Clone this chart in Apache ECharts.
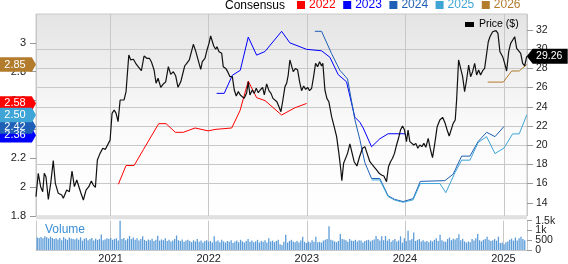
<!DOCTYPE html>
<html><head><meta charset="utf-8">
<script src="https://cdn.jsdelivr.net/npm/echarts@6/dist/echarts.min.js"></script>
<style>html,body{margin:0;padding:0;background:#fff}#c{width:568px;height:264px}</style>
</head><body><div id="c"></div>
<script>
// ---------- DATA (dates as decimal years) ----------
const priceYears = [
2020.249,2020.272,2020.296,2020.317,2020.333,2020.350,2020.374,2020.398,2020.424,2020.445,
2020.475,2020.510,2020.526,2020.560,2020.587,2020.614,2020.638,2020.662,2020.682,2020.703,
2020.729,2020.756,2020.784,2020.810,2020.830,2020.851,2020.871,2020.898,2020.926,2020.952,
2020.983,2021.000,2021.020,2021.041,2021.061,2021.081,2021.102,2021.122,2021.142,2021.162,
2021.190,2021.210,2021.237,2021.264,2021.291,2021.318,2021.345,2021.373,2021.399,2021.419,
2021.447,2021.467,2021.487,2021.515,2021.541,2021.565,2021.592,2021.616,2021.643,2021.667,
2021.690,2021.718,2021.738,2021.758,2021.779,2021.805,2021.825,2021.846,2021.870,2021.904,
2021.921,2021.937,2021.964,2021.985,2022.005,2022.022,2022.039,2022.053,2022.073,2022.086,
2022.107,2022.134,2022.150,2022.175,2022.195,2022.218,2022.242,2022.262,2022.282,2022.303,
2022.323,2022.343,2022.363,2022.388,2022.404,2022.421,2022.445,2022.465,2022.485,2022.506,
2022.526,2022.550,2022.567,2022.591,2022.614,2022.635,2022.655,2022.675,2022.695,2022.716,
2022.736,2022.756,2022.777,2022.794,2022.810,2022.827,2022.845,2022.861,2022.885,2022.906,
2022.926,2022.946,2022.967,2022.987,2023.007,2023.027,2023.048,2023.068,2023.088,2023.109,
2023.129,2023.149,2023.162,2023.183,2023.203,2023.223,2023.251,2023.277,2023.302,2023.325,
2023.345,2023.355,2023.373,2023.393,2023.413,2023.437,2023.460,2023.480,2023.508,2023.535,
2023.565,2023.589,2023.640,2023.660,2023.680,2023.708,2023.734,2023.758,2023.782,2023.809,
2023.829,2023.850,2023.870,2023.890,2023.911,2023.931,2023.951,2023.972,2023.992,2024.012,
2024.028,2024.046,2024.066,2024.086,2024.107,2024.127,2024.147,2024.168,2024.188,2024.208,
2024.232,2024.256,2024.276,2024.299,2024.323,2024.350,2024.378,2024.404,2024.424,2024.445,
2024.465,2024.485,2024.506,2024.520,2024.540,2024.560,2024.581,2024.601,2024.621,2024.642,
2024.662,2024.682,2024.703,2024.723,2024.743,2024.763,2024.784,2024.804,2024.824,2024.841,
2024.858,2024.885,2024.919,2024.939,2024.959,2024.987,2025.007,2025.027,2025.048,2025.068,
2025.088,2025.109,2025.129,2025.149,2025.170,2025.190,2025.210,2025.231];
const priceValues = [
14.64,17.07,15.68,15.16,17.07,16.72,14.36,16.03,18.39,16.03,
14.99,14.81,14.47,15.33,15.16,17.31,15.68,16.38,16.30,15.05,
14.29,15.33,15.68,16.27,15.85,15.61,18.46,19.15,19.68,19.57,
20.19,20.54,23.32,23.67,23.32,22.45,24.71,24.88,24.71,25.58,
29.40,28.88,28.95,28.46,28.11,27.76,29.29,29.05,29.05,28.70,
27.83,26.45,26.97,26.03,26.38,26.60,28.18,27.38,27.66,27.20,
26.03,26.60,26.79,28.25,28.53,28.88,28.70,30.51,29.80,28.53,
27.90,28.70,29.05,29.92,30.61,31.38,31.30,30.33,29.99,30.26,
29.74,29.57,28.18,28.00,27.66,27.14,27.14,25.75,25.13,25.58,
25.23,25.05,24.88,25.47,26.60,25.23,25.75,25.40,25.93,25.47,
25.75,26.03,25.23,26.38,25.68,25.40,24.88,24.71,24.53,24.01,
23.49,24.71,26.10,26.45,27.31,28.88,29.05,27.66,28.00,27.83,
26.60,25.68,26.17,25.82,26.03,25.68,25.93,27.14,28.53,28.18,
28.70,28.25,28.53,25.75,24.88,24.53,22.97,21.93,20.89,19.15,
17.42,16.30,18.11,18.28,19.15,20.13,19.15,18.28,17.83,18.80,
19.68,19.85,18.28,18.04,17.76,17.42,17.07,16.90,16.79,16.20,
17.76,18.28,18.64,19.15,20.02,20.72,21.58,22.00,21.58,20.37,
21.58,20.37,20.19,20.02,20.19,19.68,20.02,19.85,20.19,19.78,
20.72,19.50,18.70,20.19,21.93,22.63,22.90,22.28,21.58,20.96,
21.06,22.28,22.63,24.71,28.88,29.05,27.14,25.58,26.79,28.35,
27.14,27.66,28.53,27.31,27.83,27.31,27.76,28.00,27.83,30.78,
31.30,31.82,31.93,31.65,29.74,29.22,28.53,27.73,29.74,30.61,
30.78,31.30,30.09,30.26,29.57,28.53,28.25,29.26];

const eps2022Years = [2021.084,2021.162,2021.244,2021.338,2021.494,2021.569,2021.663,2021.744,2021.863,2021.998,2022.066,2022.236,2022.320,2022.404,2022.489,2022.574,2022.743,2022.878,2022.997];
const eps2022 = [2.02,2.15,2.15,2.26,2.44,2.44,2.38,2.38,2.41,2.39,2.40,2.41,2.53,2.735,2.62,2.60,2.50,2.55,2.58];

const eps2023Years = [2022.083,2022.160,2022.242,2022.323,2022.404,2022.489,2022.574,2022.743,2022.827,2022.997,2023.149,2023.234,2023.318,2023.403,2023.487,2023.538,2023.572,2023.657,2023.741,2023.825,2023.995,2024.005];
const eps2023 = [2.65,2.65,2.775,2.81,3.04,2.915,2.94,3.08,3.00,2.955,2.945,2.90,2.78,2.73,2.485,2.45,2.41,2.28,2.335,2.37,2.37,2.36];

const eps2024Years = [2023.081,2023.149,2023.251,2023.335,2023.413,2023.487,2023.538,2023.589,2023.657,2023.741,2023.825,2023.893,2023.978,2024.079,2024.152,2024.401,2024.485,2024.571,2024.655,2024.739,2024.824,2024.909,2025.000];
const eps2024 = [3.08,3.08,2.925,2.81,2.75,2.47,2.33,2.17,2.06,2.06,1.94,1.915,1.90,1.92,2.04,2.045,2.09,2.215,2.215,2.317,2.38,2.35,2.42];

const eps2025Years = [2023.657,2023.741,2023.825,2023.893,2023.978,2024.079,2024.152,2024.350,2024.411,2024.503,2024.571,2024.655,2024.739,2024.824,2024.909,2025.000,2025.088,2025.155,2025.231];
const eps2025 = [2.05,2.05,1.935,1.91,1.895,1.912,2.025,2.025,1.962,2.10,2.187,2.187,2.31,2.35,2.233,2.271,2.369,2.369,2.50];

const eps2026Years = [2024.835,2024.993,2025.078,2025.155,2025.231];
const eps2026 = [2.728,2.728,2.805,2.805,2.85];

// weekly volume (thousands of shares), first week 2020-04-03
const volumeStart = '2020-04-03';
const volumeValues = [
640,620,660,600,700,650,590,680,620,560,
600,540,620,500,660,580,520,640,590,560,
540,600,520,650,480,570,610,500,560,620,
480,580,520,560,790,500,540,600,560,620,
520,560,600,480,1510,560,620,500,580,720,
560,640,520,600,480,560,700,520,460,540,
500,580,460,520,730,480,540,500,600,460,
520,440,480,560,740,500,460,540,420,480,
520,460,400,500,440,560,420,480,380,460,
500,420,460,380,700,440,480,400,520,440,
380,460,420,500,360,440,480,400,520,440,
380,460,560,420,480,400,440,520,380,460,
420,500,380,600,440,480,400,460,520,300,
260,420,780,380,460,520,440,400,460,380,
480,680,420,360,440,380,500,420,680,400,
420,380,480,520,560,1220,520,480,440,400,
460,820,560,540,500,420,560,480,460,520,
440,500,480,380,460,500,520,440,500,540,
720,560,480,700,500,720,480,560,420,500,
560,440,480,700,380,600,460,980,500,560,
900,460,520,560,440,500,420,460,400,480,
440,520,600,460,780,500,440,420,560,640,
500,580,540,620,800,500,560,440,380,440,
400,560,480,600,820,500,440,520,560,680,
520,460,500,560,480,680,360,380,300,400,
440,520,580,480,640,480,600,680,560,500];

const seriesNames = ['2022','2023','2024','2025','2026'];
const seriesColors = ['#ff0000','#0000ff','#1f5fb5','#3ea5d6','#b27c2c'];
const epsTicks = [1.8,2.0,2.2,2.4,2.6,2.8,3.0];
const priceTicks = [14,16,18,20,22,24,26,28,30,32];
const volumeTicks = [0,500,1000,1500];
const volumeTickLabels = ['0','500','1k','1.5k'];

// ---------- helpers ----------
function yearToTime(y){const yr=Math.floor(y);const s=new Date(yr,0,1).getTime();const e=new Date(yr+1,0,1).getTime();return s+(y-yr)*(e-s);}
function pairs(xs,vs){return xs.map((x,i)=>[yearToTime(x),vs[i]]);}
const X_MIN = yearToTime(2020.249), X_MAX = yearToTime(2025.234);
const YEAR = 365.25*24*3600*1000;
const FONT = '"Liberation Sans", Arial, sans-serif';
const volStartT = new Date(volumeStart+'T12:00:00').getTime();
const volumeData = volumeValues.map((v,i)=>[volStartT+i*7*86400000, v]);
const grid1Bg = {type:'linear',x:0,y:0,x2:0,y2:1,colorStops:[{offset:0,color:'#e4e4e4'},{offset:0.55,color:'#fafafa'},{offset:1,color:'#ffffff'}]};
function yearLabel(v){const d=new Date(v);return (d.getMonth()===0&&d.getDate()===1)?String(d.getFullYear()):'';}

const epsSets = [[eps2022Years,eps2022],[eps2023Years,eps2023],[eps2024Years,eps2024],[eps2025Years,eps2025],[eps2026Years,eps2026]];
const leftBadge = 'path://M0,0L31,0L35,7L31,14L0,14Z';
const rightBadge = 'path://M0,7L6,0L41,0L41,14L6,14Z';

const epsSeries = epsSets.map((s,i)=>{
  const last = s[1][s[1].length-1];
  return {
    name: seriesNames[i], type:'line', xAxisIndex:1, yAxisIndex:1, showSymbol:false, symbol:'none',
    color: seriesColors[i], lineStyle:{width:1, color:seriesColors[i]},
    data: pairs(s[0], s[1]),
    markPoint:{
      symbol:leftBadge, symbolSize:[36,14.5], symbolOffset:[-18,0], symbolKeepAspect:false,
      itemStyle:{color:seriesColors[i]},
      label:{show:true, position:'inside', offset:[-3,0], color:'#fff', fontSize:11, fontFamily:FONT, formatter: ()=>last.toFixed(2)},
      data:[{coord:[X_MIN,last], value:last}]
    }
  };
});

const lastPrice = priceValues[priceValues.length-1];
const option = {
  animation:false,
  textStyle:{fontFamily:FONT},
  grid:[
    {left:36,right:41,top:10.8,height:211.2,show:false},
    {left:36,right:41,top:14,height:202,show:true,borderColor:'#c8c8c8',borderWidth:1,backgroundColor:grid1Bg},
    {left:36,right:41,top:220.7,height:33.3,show:false}
  ],
  xAxis:[
    {type:'time',gridIndex:0,min:X_MIN,max:X_MAX,show:false},
    {type:'time',gridIndex:1,min:X_MIN,max:X_MAX,minInterval:YEAR,maxInterval:YEAR,z:1,
      axisLine:{show:false},axisTick:{show:false},axisLabel:{show:false},
      splitLine:{show:true,lineStyle:{color:'#c8c8c8',width:1}}},
    {type:'time',gridIndex:2,min:X_MIN,max:X_MAX,minInterval:YEAR,maxInterval:YEAR,z:1,
      axisLine:{show:true,lineStyle:{color:'#c8c8c8'}},axisTick:{show:false},
      axisLabel:{show:true,formatter:yearLabel,color:'#222',fontSize:11,margin:3,fontFamily:FONT,hideOverlap:false},
      splitLine:{show:true,lineStyle:{color:'#c8c8c8',width:1}}}
  ],
  yAxis:[
    {type:'value',gridIndex:0,position:'right',min:12,max:34,interval:2,z:1,
      axisLine:{show:false},
      axisTick:{show:true,length:6,lineStyle:{color:'#999'},customValues:priceTicks},
      axisLabel:{show:true,customValues:priceTicks,margin:9,color:'#222',fontSize:10.5,fontFamily:FONT,hideOverlap:false,
        formatter:v=>(v<13||v>33)?'':String(v)},
      splitLine:{show:true,showMinLine:false,showMaxLine:false,lineStyle:{color:'#c8c8c8',width:1}}},
    {type:'value',gridIndex:1,position:'left',min:1.8,max:3.2,interval:0.2,z:1,
      axisLine:{show:false},
      axisTick:{show:true,length:6,lineStyle:{color:'#999'},customValues:epsTicks},
      axisLabel:{show:true,customValues:epsTicks,margin:10,color:'#222',fontSize:11,fontFamily:FONT,hideOverlap:false,
        formatter:v=>v>3.1?'':String(+(+v).toFixed(1))},
      splitLine:{show:false}},
    {type:'value',gridIndex:2,position:'right',min:0,max:1500,interval:500,z:1,
      axisLine:{show:false},
      axisTick:{show:true,length:5,lineStyle:{color:'#999'},customValues:volumeTicks},
      axisLabel:{show:false},
      splitLine:{show:false}}
  ],
  legend:[
    {left:297,top:-1,padding:0,icon:'rect',itemWidth:8,itemHeight:8,itemGap:7.5,
      textStyle:{fontSize:12,fontFamily:FONT,padding:[0,0,0,-1]},
      data:seriesNames.map((n,i)=>({name:n,textStyle:{color:seriesColors[i]}}))},
    {left:465,top:19,padding:0,icon:'rect',itemWidth:9,itemHeight:5,
      textStyle:{fontSize:10.5,color:'#000',fontFamily:FONT},data:['Price ($)']}
  ],
  graphic:[
    {type:'text',z:10,style:{x:225,y:5.5,text:'Consensus',fill:'#000',font:'12px '+FONT,verticalAlign:'middle'}},
    {type:'rect',z:10,shape:{x:36,y:216.3,width:491,height:3},style:{fill:'#e0e0e0'}},
    {type:'text',z:10,style:{x:45,y:229.5,text:'Volume',fill:'#3b8fd4',font:'12px '+FONT,verticalAlign:'middle'}}
  ],
  series:[
    ...epsSeries,
    {name:'Volume',type:'bar',xAxisIndex:2,yAxisIndex:2,barWidth:1.3,
      itemStyle:{color:'#5b9cd8'},data:volumeData},
    {name:'Price ($)',type:'line',xAxisIndex:0,yAxisIndex:0,showSymbol:false,symbol:'none',
      color:'#000',lineStyle:{width:1.2,color:'#111'},
      data:pairs(priceYears,priceValues),
      markPoint:{
        symbol:rightBadge,symbolSize:[41,15],symbolOffset:[20.5,0],symbolKeepAspect:false,
        itemStyle:{color:'#000'},
        label:{show:true,position:'inside',offset:[2,0],color:'#fff',fontSize:10.5,fontFamily:FONT,formatter:()=>lastPrice.toFixed(2)},
        data:[{coord:[yearToTime(priceYears[priceYears.length-1]),lastPrice],value:lastPrice}]
      }}
  ]
};
const chart = echarts.init(document.getElementById('c'),null,{renderer:'canvas'});
chart.setOption(option);
// volume axis labels placed through the volume axis scale
const volLabelX = chart.convertToPixel({xAxisIndex:2}, X_MAX) + 9;
const volGraphics = volumeTicks.map((v,i)=>({
  type:'text', z:10,
  style:{x:volLabelX, y:chart.convertToPixel({yAxisIndex:2}, v), text:volumeTickLabels[i],
    fill:'#222', font:'10.5px '+FONT, verticalAlign:'middle', align:'left'}
}));
chart.setOption({graphic: option.graphic.concat(volGraphics)});
</script></body></html>
